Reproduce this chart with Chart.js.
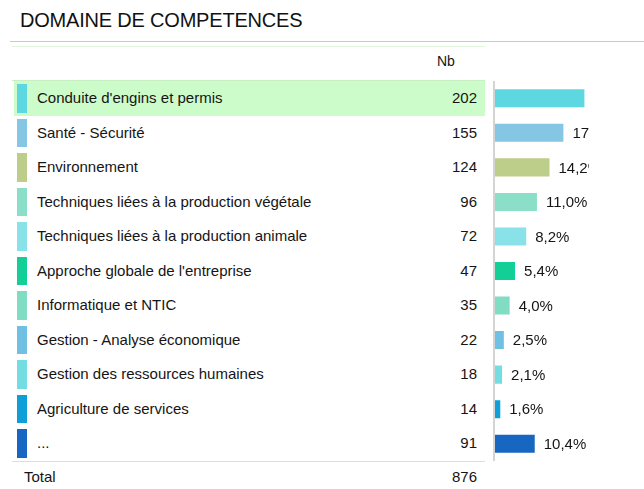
<!DOCTYPE html>
<html>
<head>
<meta charset="utf-8">
<script src="https://cdn.jsdelivr.net/npm/chart.js@4"></script>
<style>
  body { margin: 0; width: 644px; height: 489px; overflow: hidden; background: #fff;
         font-family: "Liberation Sans", Arial, sans-serif; color: #151515; }
  .abs { position: absolute; }
  #title { left: 20px; top: 9px; font-size: 20px; letter-spacing: -0.2px; color: #111; }
  .row { position: absolute; left: 14px; width: 471px; font-size: 15px; }
  .chip { position: absolute; left: 3px; top: 3px; width: 10px; }
  .lbl { position: absolute; left: 23px; top: 0; }
  .nb { position: absolute; right: 8px; top: 0; }
</style>
</head>
<body>
<div id="title" class="abs">DOMAINE DE COMPETENCES</div>
<div class="abs" style="left:10px; top:41px; width:634px; height:1px; background:#c9c9c9"></div>
<div class="abs" style="left:12px; top:46px; width:473px; height:1px; background:#e2f6de"></div>
<div class="abs" style="left:437px; top:53px; font-size:14px">Nb</div>
<div class="abs" style="left:12px; top:80px; width:473px; height:1px; background:#c8efc2"></div>
<div id="table"></div>
<div class="abs" style="left:493px; top:81px; width:2px; height:380px; background:#d4d4d4"></div>
<div class="abs" style="left:495px; top:81px; width:94px; height:380px">
  <canvas id="barChart" width="94" height="380"></canvas>
</div>
<div class="abs" style="left:12px; top:461px; width:473px; height:1px; background:#c8efc2"></div>
<div class="abs" style="left:24px; top:468px; font-size:15px">Total</div>
<div class="abs" style="left:300px; width:177px; text-align:right; top:468px; font-size:15px">876</div>

<script>
  const categories = ['Conduite d\'engins et permis', 'Santé - Sécurité', 'Environnement',
    'Techniques liées à la production végétale', 'Techniques liées à la production animale',
    'Approche globale de l\'entreprise', 'Informatique et NTIC', 'Gestion - Analyse économique',
    'Gestion des ressources humaines', 'Agriculture de services', '...'];
  const counts = [202, 155, 124, 96, 72, 47, 35, 22, 18, 14, 91];
  const pctLabels = ['23,1%', '17,7%', '14,2%', '11,0%', '8,2%', '5,4%', '4,0%', '2,5%', '2,1%', '1,6%', '10,4%'];
  const colors = ['#5dd8e0', '#85c6e4', '#bdce8a', '#8bdfc8', '#88e2e8', '#12cf98',
    '#80ddc3', '#6fc0e2', '#74dde2', '#0e9fd8', '#1766c2'];

  // tableau de gauche
  const pitch = 380 / categories.length;
  const table = document.getElementById('table');
  categories.forEach((c, i) => {
    const row = document.createElement('div');
    row.className = 'row';
    row.style.top = (81 + i * pitch) + 'px';
    row.style.height = pitch + 'px';
    row.style.lineHeight = pitch + 'px';
    if (i === 0) row.style.background = '#cdfccb';
    row.innerHTML = '<div class="chip" style="height:' + (pitch - 6) + 'px;background:' + colors[i] + '"></div>' +
      '<div class="lbl">' + c + '</div><div class="nb">' + counts[i] + '</div>';
    table.appendChild(row);
  });

  const pctPlugin = {
    id: 'pct',
    afterDatasetsDraw(chart) {
      const c = chart.ctx;
      c.save();
      c.font = '15px "Liberation Sans", Arial, sans-serif';
      c.fillStyle = '#151515';
      c.textBaseline = 'middle';
      chart.getDatasetMeta(0).data.forEach((bar, i) => {
        c.fillText(pctLabels[i], bar.x + 8, bar.y + 1);
      });
      c.restore();
    }
  };

  const ctx = document.getElementById('barChart').getContext('2d');
  new Chart(ctx, {
    type: 'bar',
    data: {
      labels: categories,
      datasets: [{
        data: counts,
        backgroundColor: colors,
        borderColor: 'rgba(255,255,255,0.35)',
        borderWidth: 1,
        categoryPercentage: 1,
        barPercentage: 0.58
      }]
    },
    options: {
      indexAxis: 'y',
      responsive: false,
      animation: false,
      layout: { padding: 0 },
      plugins: { legend: { display: false }, tooltip: { enabled: false } },
      scales: {
        x: { display: false, min: 0, max: 210 },
        y: { display: false }
      }
    },
    plugins: [pctPlugin]
  });
</script>
</body>
</html>
